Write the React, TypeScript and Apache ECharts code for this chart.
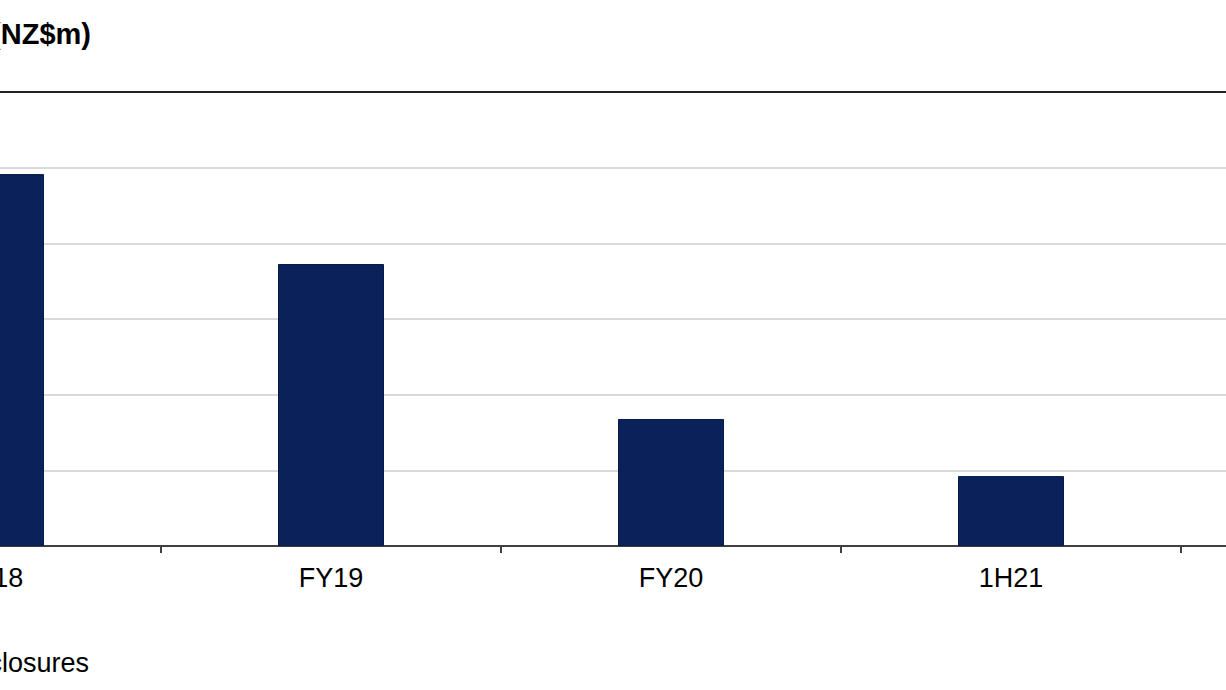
import React, { useEffect, useRef } from "react";
import * as echarts from "echarts";

const categories = ["FY18", "FY19", "FY20", "1H21", ""];
const values: (number | null)[] = [98.4, 74.6, 33.6, 18.5, null];
const yTicks = { min: 0, max: 100, interval: 20 };
const titleText = "(NZ$m)";
const sourceText = "Source: Company disclosures";

const OFFSET = 200;

export default function App() {
  const ref = useRef<HTMLDivElement>(null);
  useEffect(() => {
    document.body.style.overflow = "hidden";
    const chart = echarts.init(ref.current!, null, { renderer: "svg" });
    chart.setOption({
      animation: false,
      backgroundColor: "#ffffff",
      grid: { left: 21, width: 1700, top: 168, bottom: 144, containLabel: false },
      xAxis: {
        type: "category",
        data: categories,
        axisLine: { show: true, lineStyle: { color: "#404040", width: 2 } },
        axisTick: { show: true, length: 7, lineStyle: { color: "#404040", width: 2 } },
        axisLabel: {
          color: "#000",
          fontSize: 27,
          fontFamily: "Liberation Sans, Arial, sans-serif",
          margin: 18,
        },
      },
      yAxis: {
        type: "value",
        min: yTicks.min,
        max: yTicks.max,
        interval: yTicks.interval,
        axisLine: { show: false },
        axisTick: { show: false },
        axisLabel: { show: false },
        splitLine: { show: true, lineStyle: { color: "#d9d9d9", width: 2 } },
      },
      series: [
        {
          type: "bar",
          data: values,
          barWidth: 106,
          itemStyle: { color: "#0a2159", borderColor: "#071a4a", borderWidth: 1 },
        },
      ],
      graphic: [
        {
          type: "line",
          shape: { x1: 0, y1: 92, x2: 1950, y2: 92 },
          style: { stroke: "#222", lineWidth: 2 },
        },
        {
          type: "text",
          x: OFFSET + 91,
          y: 34,
          style: {
            text: titleText,
            align: "right",
            verticalAlign: "middle",
            fontSize: 29,
            fontWeight: "bold",
            fontFamily: "Liberation Sans, Arial, sans-serif",
            fill: "#000",
          },
        },
        {
          type: "text",
          x: OFFSET + 89,
          y: 663,
          style: {
            text: sourceText,
            align: "right",
            verticalAlign: "middle",
            fontSize: 27,
            fontFamily: "Liberation Sans, Arial, sans-serif",
            fill: "#000",
          },
        },
      ],
    });
    return () => chart.dispose();
  }, []);
  return (
    <div
      ref={ref}
      style={{ position: "fixed", left: -OFFSET, top: 0, width: 1950, height: 690 }}
    />
  );
}
